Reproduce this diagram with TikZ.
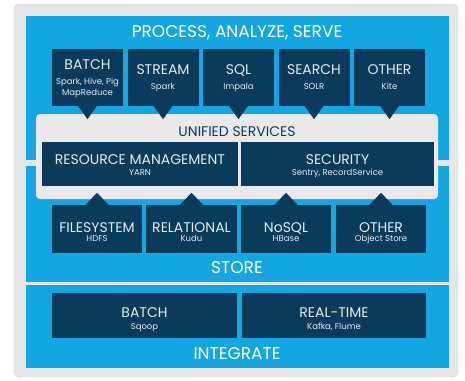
\documentclass[tikz,border=0pt]{standalone}
\usepackage{fontspec}
\setmainfont{Poppins}
\definecolor{panelblue}{HTML}{14A6E0}
\definecolor{boxnavy}{HTML}{0B3B5A}
\definecolor{framegray}{HTML}{E6E6E6}
\definecolor{frameedge}{HTML}{CFCFCF}
\definecolor{unifiedgray}{HTML}{E9E9E9}
\definecolor{boxtext}{HTML}{E4ECF1}
\begin{document}
\begin{tikzpicture}[x=1pt,y=-1pt,
    panel/.style={fill=panelblue,minimum width=423pt,inner sep=0pt},
    navy/.style={fill=boxnavy,inner sep=0pt},
    topbox/.style={navy,minimum width=71pt,minimum height=57pt},
    storebox/.style={navy,minimum width=90pt,minimum height=48pt},
    hd/.style={text=boxtext,inner sep=0pt,anchor=base,font=\fontsize{14}{15}\selectfont},
    sub/.style={text=boxtext,inner sep=0pt,anchor=base,font=\fontsize{8.5}{10}\selectfont},
    title/.style={text=white,inner sep=0pt,anchor=base,font=\fontsize{17}{18}\selectfont}]
  \useasboundingbox (0,0) rectangle (465,380);
  \node[fill=framegray,draw=frameedge,rounded corners=6pt,minimum width=444pt,
    minimum height=373pt] (frame) at (236,190.5) {};
  \node[panel,minimum height=144pt] (proc) at (237.5,88) {};
  \node[panel,minimum height=116pt] (store) at (237.5,224) {};
  \node[panel,minimum height=83pt] (integ) at (237.5,326.5) {};
  \node[fill=unifiedgray,rounded corners=4pt,minimum width=402pt,
    minimum height=85pt] (uni) at (237,156.5) {};

  \node[title] (proctitle) at (237,37.5) {PROCESS, ANALYZE, SERVE};
  \node[title,text=boxnavy,font=\fontsize{14}{15}\selectfont] (unititle) at (237,136) {UNIFIED SERVICES};
  \node[title] (storetitle) at (237,273.5) {STORE};
  \node[title] (integtitle) at (237,359) {INTEGRATE};

  % process
  \node[topbox] (batch) at (87.5,77) {};
  \node[topbox] (stream) at (163,77) {};
  \node[topbox] (sql) at (238.5,77) {};
  \node[topbox] (search) at (314,77) {};
  \node[topbox] (other) at (389.5,77) {};
  \foreach \b in {batch,stream,sql,search,other}
    \fill[boxnavy] ([xshift=-10pt,yshift=0.5pt]\b.south)
      -- ([xshift=10pt,yshift=0.5pt]\b.south) -- ([yshift=-13.5pt]\b.south) -- cycle;
  \node[hd] (batch-t) at (87.5,69) {BATCH};
  \node[sub] (batch-s) at (87.5,84.5) {Spark, Hive, Pig};
  \node[sub] (batch-s2) at (87.5,95.5) {MapReduce};
  \node[hd] (stream-t) at (163,74) {STREAM};
  \node[sub] (stream-s) at (163,89) {Spark};
  \node[hd] (sql-t) at (238.5,74) {SQL};
  \node[sub] (sql-s) at (238.5,89) {Impala};
  \node[hd] (search-t) at (314,74) {SEARCH};
  \node[sub] (search-s) at (314,89) {SOLR};
  \node[hd] (other-t) at (389.5,74) {OTHER};
  \node[sub] (other-s) at (389.5,89) {Kite};

  % unified services
  \node[navy,minimum width=196pt,minimum height=44pt] (yarn) at (140,164) {};
  \node[navy,minimum width=193pt,minimum height=44pt] (security) at (337.5,164) {};
  \node[hd] (yarn-t) at (140,164) {RESOURCE MANAGEMENT};
  \node[sub] (yarn-s) at (140,175.5) {YARN};
  \node[hd] (security-t) at (337.5,164) {SECURITY};
  \node[sub] (security-s) at (337.5,175.5) {Sentry, RecordService};

  % store
  \node[storebox] (hdfs) at (97,229) {};
  \node[storebox,minimum width=91pt] (kudu) at (191.5,229) {};
  \node[storebox] (hbase) at (286,229) {};
  \node[storebox] (objstore) at (381,229) {};
  \foreach \b in {hdfs,kudu,hbase,objstore}
    \fill[boxnavy] ([xshift=-12pt,yshift=-0.5pt]\b.north)
      -- ([xshift=12pt,yshift=-0.5pt]\b.north) -- ([yshift=12pt]\b.north) -- cycle;
  \node[hd] (hdfs-t) at (97,232) {FILESYSTEM};
  \node[sub] (hdfs-s) at (97,241.5) {HDFS};
  \node[hd] (kudu-t) at (191.5,232) {RELATIONAL};
  \node[sub] (kudu-s) at (191.5,241.5) {Kudu};
  \node[hd] (hbase-t) at (286,232) {NoSQL};
  \node[sub] (hbase-s) at (286,241.5) {HBase};
  \node[hd] (objstore-t) at (381,232) {OTHER};
  \node[sub] (objstore-s) at (381,241.5) {Object Store};

  % integrate
  \node[navy,minimum width=185pt,minimum height=45pt] (sqoop) at (144.5,315.5) {};
  \node[navy,minimum width=184pt,minimum height=45pt] (kafka) at (334,315.5) {};
  \node[hd] (sqoop-t) at (144.5,317) {BATCH};
  \node[sub] (sqoop-s) at (144.5,329) {Sqoop};
  \node[hd] (kafka-t) at (334,317.5) {REAL-TIME};
  \node[sub] (kafka-s) at (334,329) {Kafka, Flume};
\end{tikzpicture}
\end{document}
